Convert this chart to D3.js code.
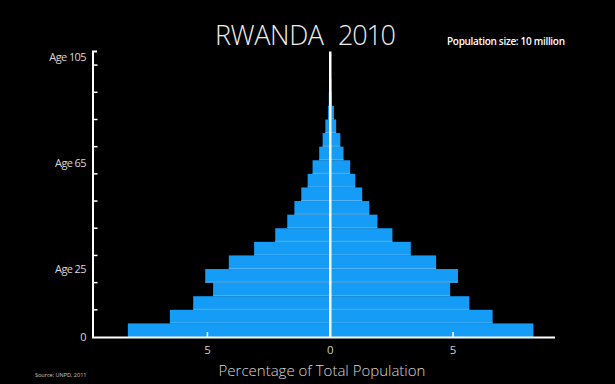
<!DOCTYPE html>
<html>
<head>
<meta charset="utf-8">
<script src="https://cdn.jsdelivr.net/npm/d3@7"></script>
<style>
  html, body { margin: 0; padding: 0; background: #000; }
  svg { display: block; }
  text { font-family: "Open Sans", "DejaVu Sans", sans-serif; }
</style>
</head>
<body>
<svg id="chart" width="615" height="384"></svg>
<script>
// age groups, bottom to top (5-year bands)
const ageStarts = [0, 5, 10, 15, 20, 25, 30, 35, 40, 45, 50, 55, 60, 65, 70, 75, 80, 85, 90];
// percent of total population, left side / right side
const leftPct  = [8.24, 6.53, 5.58, 4.77, 5.09, 4.13, 3.10, 2.24, 1.75, 1.46, 1.18, 0.92, 0.72, 0.45, 0.31, 0.20, 0.09, 0.06, 0.04];
const rightPct = [8.27, 6.61, 5.66, 4.88, 5.20, 4.31, 3.28, 2.53, 1.92, 1.59, 1.30, 1.02, 0.81, 0.54, 0.41, 0.24, 0.15, 0.07, 0.05];

const yTickAges = [10, 20, 30, 40, 50, 60, 70, 80, 90, 100];
const yLabelAges = [0, 25, 65, 105];
const yLabelText = ['0', 'Age 25', 'Age 65', 'Age 105'];
const xTickVals = [-5, 0, 5];

const svg = d3.select('#chart');

const x = d3.scaleLinear().domain([-9.7, 9.15]).range([92, 555]);
const y = d3.scaleLinear().domain([0, 105]).range([337, 51.5]);

const barColor = '#149cf6';
const sepColor = '#52b6fb';

const rows = ageStarts.map((a, i) => ({ age: a, left: leftPct[i], right: rightPct[i] }));

// bars
const g = svg.append('g');
rows.forEach(d => {
  const top = y(d.age + 5), bot = y(d.age);
  g.append('rect')
    .attr('x', x(-d.left)).attr('y', top)
    .attr('width', x(d.right) - x(-d.left)).attr('height', bot - top)
    .attr('fill', barColor);
  if (d.age > 0) {
    g.append('line')
      .attr('x1', x(-d.left)).attr('x2', x(d.right))
      .attr('y1', bot - 0.5).attr('y2', bot - 0.5)
      .attr('stroke', sepColor).attr('stroke-width', 1);
  }
});

// center line
svg.append('line')
  .attr('x1', x(0)).attr('x2', x(0))
  .attr('y1', y(105)).attr('y2', y(0))
  .attr('stroke', '#fff').attr('stroke-width', 2.5);

// y axis
svg.append('path')
  .attr('d', `M97,${y(105)}H93V${y(0)}`)
  .attr('fill', 'none').attr('stroke', '#fff').attr('stroke-width', 2);
svg.selectAll('.ytick').data(yTickAges).enter().append('line')
  .attr('x1', 93).attr('x2', 97.5)
  .attr('y1', d => y(d)).attr('y2', d => y(d))
  .attr('stroke', '#fff').attr('stroke-width', 1.5);
svg.selectAll('.ylab').data(yLabelAges).enter().append('text')
  .attr('x', 86)
  .attr('y', (d, i) => d === 105 ? y(d) + 6 : (d === 65 ? y(d) + 2.5 : y(d)))
  .attr('dy', '0.35em')
  .attr('text-anchor', 'end')
  .attr('fill', '#d8d8d8')
  .attr('font-size', 11)
  .attr('letter-spacing', -0.6)
  .text((d, i) => yLabelText[i]);

// x axis
svg.append('line')
  .attr('x1', 92).attr('x2', 555)
  .attr('y1', 337.5).attr('y2', 337.5)
  .attr('stroke', '#fff').attr('stroke-width', 2);
svg.selectAll('.xtick').data([-5, 5]).enter().append('line')
  .attr('x1', d => x(d)).attr('x2', d => x(d))
  .attr('y1', 337).attr('y2', 332)
  .attr('stroke', '#fff').attr('stroke-width', 1.5);
svg.selectAll('.xlab').data(xTickVals).enter().append('text')
  .attr('x', d => x(d)).attr('y', 354)
  .attr('text-anchor', 'middle')
  .attr('fill', '#cfcfcf')
  .attr('font-size', 11.5)
  .text(d => Math.abs(d));

svg.append('text')
  .attr('x', 322).attr('y', 375.5)
  .attr('text-anchor', 'middle')
  .attr('fill', '#d8d8d8')
  .attr('font-size', 15)
  .attr('font-weight', 300)
  .text('Percentage of Total Population');

// title
svg.append('text')
  .attr('x', 215).attr('y', 44.5)
  .attr('fill', '#eee')
  .attr('font-size', 27)
  .attr('font-weight', 300)
  .attr('textLength', 109)
  .text('RWANDA');
svg.append('text')
  .attr('x', 338).attr('y', 44.5)
  .attr('fill', '#eee')
  .attr('font-size', 27)
  .attr('font-weight', 300)
  .attr('textLength', 58)
  .text('2010');

svg.append('text')
  .attr('x', 447).attr('y', 45)
  .attr('fill', '#fff')
  .attr('font-size', 10)
  .attr('font-weight', 600)
  .attr('textLength', 118)
  .text('Population size: 10 million');

svg.append('text')
  .attr('x', 35).attr('y', 377)
  .attr('fill', '#ccc')
  .attr('font-size', 5.5)
  .text('Source: UNPD, 2011');
</script>
</body>
</html>
